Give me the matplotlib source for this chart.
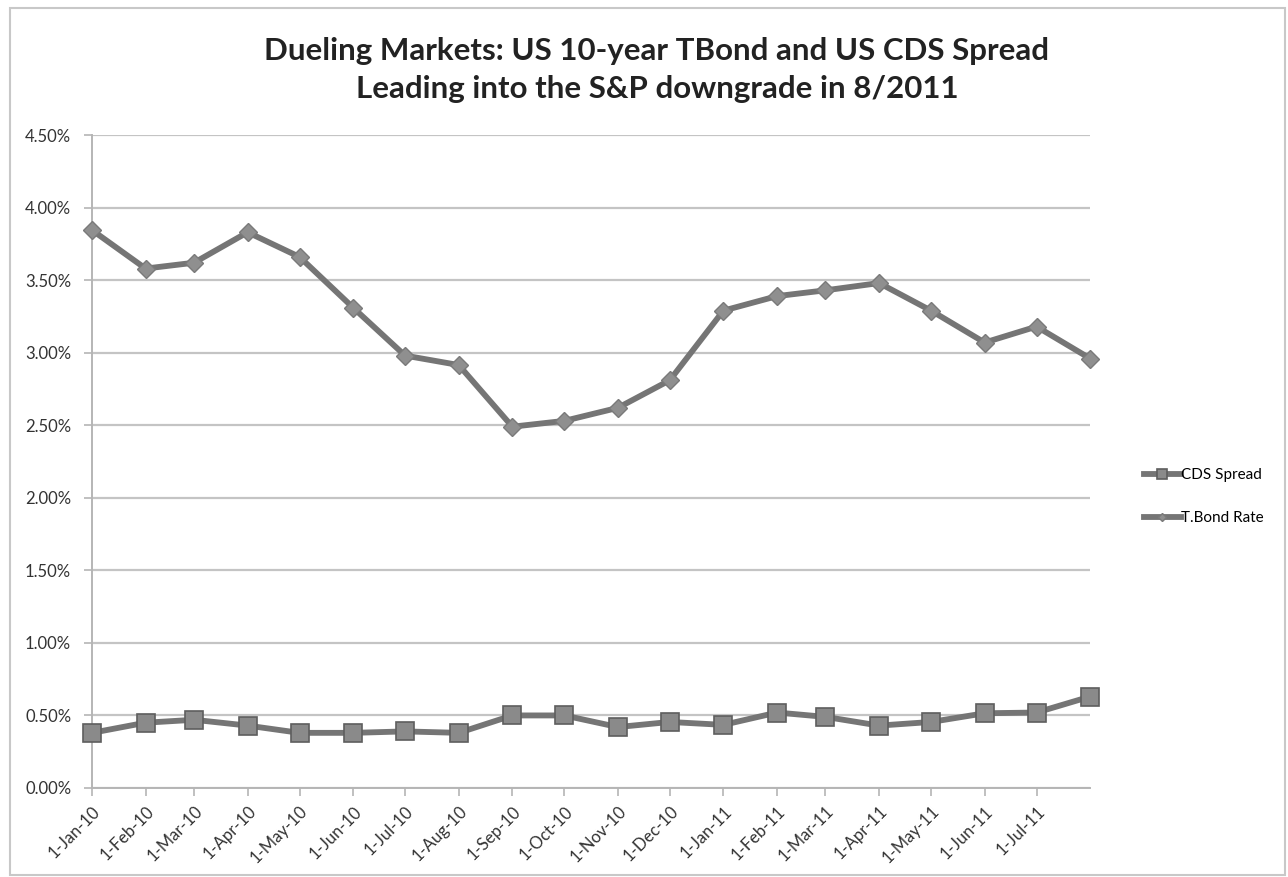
import datetime as dt
import matplotlib
matplotlib.use("Agg")
import matplotlib.pyplot as plt
import matplotlib.dates as mdates
from matplotlib.patches import Rectangle
from matplotlib.ticker import FuncFormatter

plt.rcParams['font.family'] = ['Lato', 'DejaVu Sans']

# monthly observations, Jan 2010 .. Aug 2011
months = [(2010, m) for m in range(1, 13)] + [(2011, m) for m in range(1, 9)]
dates = [dt.date(y, m, 1) for y, m in months]

cds_spread = [0.38, 0.45, 0.47, 0.43, 0.38, 0.38, 0.39, 0.38, 0.50, 0.50,
              0.42, 0.455, 0.435, 0.52, 0.49, 0.43, 0.455, 0.515, 0.52, 0.63]
tbond_rate = [3.845, 3.58, 3.62, 3.83, 3.66, 3.31, 2.98, 2.915, 2.49, 2.53,
              2.62, 2.81, 3.29, 3.39, 3.43, 3.48, 3.29, 3.07, 3.18, 2.96]

tick_labels = ["1-Jan-10", "1-Feb-10", "1-Mar-10", "1-Apr-10", "1-May-10",
               "1-Jun-10", "1-Jul-10", "1-Aug-10", "1-Sep-10", "1-Oct-10",
               "1-Nov-10", "1-Dec-10", "1-Jan-11", "1-Feb-11", "1-Mar-11",
               "1-Apr-11", "1-May-11", "1-Jun-11", "1-Jul-11"]

fig = plt.figure(figsize=(12.88, 8.77), dpi=100)
ax = fig.add_axes([0.0714, 0.1015, 0.775, 0.7445])

line_col = "#757575"
ax.plot(dates, cds_spread, color=line_col, lw=4.2, marker="s", ms=13,
        mfc="#8a8a8a", mec="#5e5e5e", mew=1.2, label="CDS Spread", zorder=3,
        clip_on=False)
ax.plot(dates, tbond_rate, color=line_col, lw=4.2, marker="D", ms=9,
        mfc="#8f8f8f", mec="#7a7a7a", mew=1.0, label="T.Bond Rate", zorder=3,
        clip_on=False)

ax.set_ylim(0, 4.5)
ax.set_yticks([0, 0.5, 1, 1.5, 2, 2.5, 3, 3.5, 4, 4.5])
ax.yaxis.set_major_formatter(FuncFormatter(lambda v, p: "%.2f%%" % v))
ax.set_xlim(dates[0], dates[-1])
ax.set_xticks(dates[:-1])
ax.set_xticklabels(tick_labels, rotation=45, ha="right", rotation_mode="anchor")

ax.grid(axis="y", color="#c4c4c4", lw=1.6)
ax.set_axisbelow(True)
for s in ["top", "right"]:
    ax.spines[s].set_visible(False)
for s in ["left", "bottom"]:
    ax.spines[s].set_color("#b5b5b5")
    ax.spines[s].set_linewidth(1.4)
ax.tick_params(axis="both", colors="#b5b5b5", labelcolor="#333333",
               labelsize=12, length=6, width=1.2)
ax.tick_params(axis="y", pad=9)
ax.tick_params(axis="x", pad=5)

fig.text(0.51, 0.942, "Dueling Markets: US 10-year TBond and US CDS Spread",
         ha="center", va="center", fontsize=22.5, fontweight="bold", color="#222222")
fig.text(0.51, 0.899, "Leading into the S&P downgrade in 8/2011",
         ha="center", va="center", fontsize=22.5, fontweight="bold", color="#222222")

leg = ax.legend(loc="center left", bbox_to_anchor=(1.04, 0.446), frameon=False,
                fontsize=11, handlelength=2.4, handletextpad=0.0,
                labelspacing=1.9, markerscale=0.5)

fig.add_artist(Rectangle((0.008, 0.002), 0.99, 0.989, transform=fig.transFigure,
                         fill=False, ec="#c8c8c8", lw=1.5))

fig.savefig("out.png", dpi=100)
